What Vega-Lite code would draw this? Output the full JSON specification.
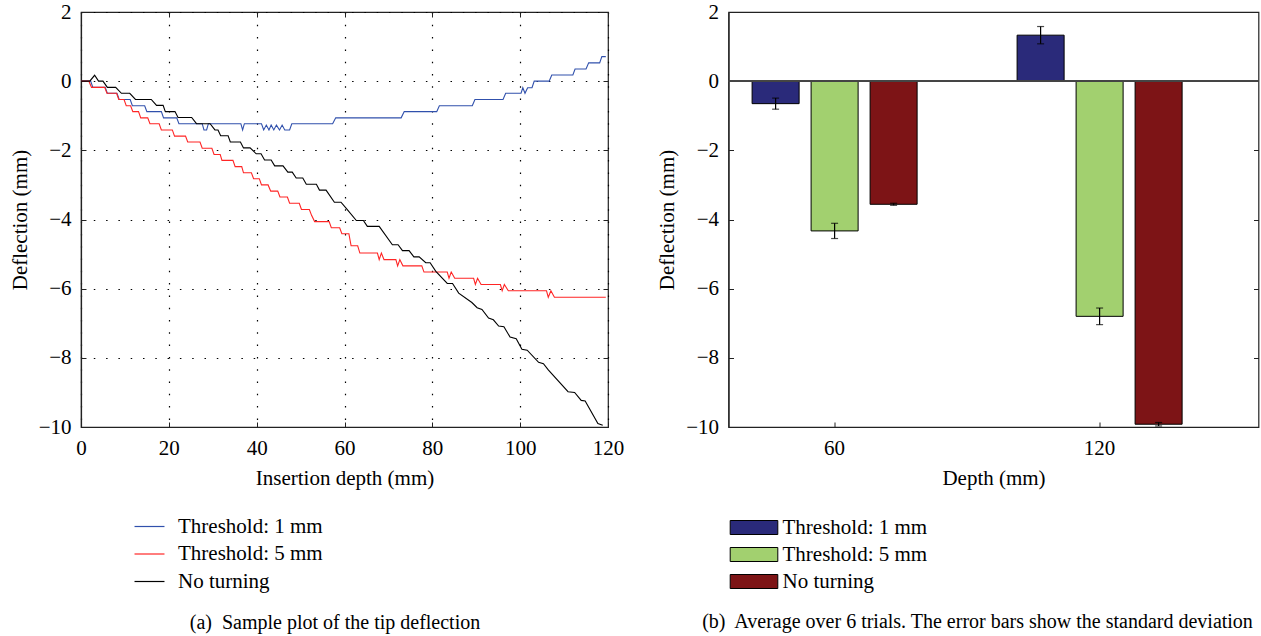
{
  "$schema": "https://vega.github.io/schema/vega-lite/v6.json",
  "padding": {"left": 8, "top": 0, "right": 0, "bottom": 0},
  "background": "white",
  "spacing": 30.5,
  "config": {
    "font": "Liberation Serif",
    "view": {"stroke": "#222", "strokeWidth": 1.2},
    "axis": {"labelFont": "Liberation Serif", "titleFont": "Liberation Serif", "labelFontSize": 21, "titleFontSize": 21, "titleFontWeight": "normal", "labelColor": "black", "titleColor": "black", "domainColor": "#222", "domainWidth": 1.2, "tickColor": "#222", "tickSize": -5, "labelPadding": 15, "labelFlush": false, "grid": false},
    "legend": {"labelFont": "Liberation Serif", "labelFontSize": 21, "labelColor": "black"},
    "title": {"font": "Liberation Serif", "fontSize": 20, "fontWeight": "normal", "color": "black"}
  },
  "resolve": {"scale": {"color": "independent"}, "legend": {"color": "independent"}},
  "hconcat": [
    {
      "width": 527,
      "height": 415,
      "title": {"text": "(a)\u00a0 Sample plot of the tip deflection", "orient": "bottom", "offset": 21, "anchor": "middle", "frame": "group", "dx": -9.5},
      "data": {"values": [
        {"series": "Threshold: 1 mm", "depth": 0, "deflection": 0},
        {"series": "Threshold: 1 mm", "depth": 2.2, "deflection": 0},
        {"series": "Threshold: 1 mm", "depth": 2.7, "deflection": -0.18},
        {"series": "Threshold: 1 mm", "depth": 5.5, "deflection": -0.18},
        {"series": "Threshold: 1 mm", "depth": 6.0, "deflection": -0.35},
        {"series": "Threshold: 1 mm", "depth": 8.2, "deflection": -0.35},
        {"series": "Threshold: 1 mm", "depth": 8.7, "deflection": -0.53},
        {"series": "Threshold: 1 mm", "depth": 11.2, "deflection": -0.53},
        {"series": "Threshold: 1 mm", "depth": 11.7, "deflection": -0.71},
        {"series": "Threshold: 1 mm", "depth": 14.5, "deflection": -0.71},
        {"series": "Threshold: 1 mm", "depth": 15.0, "deflection": -0.88},
        {"series": "Threshold: 1 mm", "depth": 18.3, "deflection": -0.88},
        {"series": "Threshold: 1 mm", "depth": 18.8, "deflection": -1.06},
        {"series": "Threshold: 1 mm", "depth": 21.8, "deflection": -1.06},
        {"series": "Threshold: 1 mm", "depth": 22.3, "deflection": -1.23},
        {"series": "Threshold: 1 mm", "depth": 27.6, "deflection": -1.23},
        {"series": "Threshold: 1 mm", "depth": 28.0, "deflection": -1.41},
        {"series": "Threshold: 1 mm", "depth": 28.6, "deflection": -1.41},
        {"series": "Threshold: 1 mm", "depth": 29.0, "deflection": -1.23},
        {"series": "Threshold: 1 mm", "depth": 36.4, "deflection": -1.23},
        {"series": "Threshold: 1 mm", "depth": 36.8, "deflection": -1.41},
        {"series": "Threshold: 1 mm", "depth": 37.2, "deflection": -1.23},
        {"series": "Threshold: 1 mm", "depth": 41.1, "deflection": -1.23},
        {"series": "Threshold: 1 mm", "depth": 41.6, "deflection": -1.41},
        {"series": "Threshold: 1 mm", "depth": 42.2, "deflection": -1.27},
        {"series": "Threshold: 1 mm", "depth": 42.8, "deflection": -1.41},
        {"series": "Threshold: 1 mm", "depth": 43.3, "deflection": -1.27},
        {"series": "Threshold: 1 mm", "depth": 43.9, "deflection": -1.41},
        {"series": "Threshold: 1 mm", "depth": 44.5, "deflection": -1.27},
        {"series": "Threshold: 1 mm", "depth": 45.2, "deflection": -1.41},
        {"series": "Threshold: 1 mm", "depth": 45.8, "deflection": -1.27},
        {"series": "Threshold: 1 mm", "depth": 46.4, "deflection": -1.41},
        {"series": "Threshold: 1 mm", "depth": 47.5, "deflection": -1.41},
        {"series": "Threshold: 1 mm", "depth": 48.0, "deflection": -1.23},
        {"series": "Threshold: 1 mm", "depth": 57.3, "deflection": -1.23},
        {"series": "Threshold: 1 mm", "depth": 58.0, "deflection": -1.06},
        {"series": "Threshold: 1 mm", "depth": 72.9, "deflection": -1.06},
        {"series": "Threshold: 1 mm", "depth": 73.6, "deflection": -0.88},
        {"series": "Threshold: 1 mm", "depth": 81.0, "deflection": -0.88},
        {"series": "Threshold: 1 mm", "depth": 81.6, "deflection": -0.71},
        {"series": "Threshold: 1 mm", "depth": 89.1, "deflection": -0.71},
        {"series": "Threshold: 1 mm", "depth": 89.7, "deflection": -0.53},
        {"series": "Threshold: 1 mm", "depth": 96.1, "deflection": -0.53},
        {"series": "Threshold: 1 mm", "depth": 96.7, "deflection": -0.35},
        {"series": "Threshold: 1 mm", "depth": 100.2, "deflection": -0.35},
        {"series": "Threshold: 1 mm", "depth": 100.6, "deflection": -0.19},
        {"series": "Threshold: 1 mm", "depth": 101.1, "deflection": -0.35},
        {"series": "Threshold: 1 mm", "depth": 101.7, "deflection": -0.19},
        {"series": "Threshold: 1 mm", "depth": 102.7, "deflection": -0.19},
        {"series": "Threshold: 1 mm", "depth": 103.2, "deflection": 0},
        {"series": "Threshold: 1 mm", "depth": 106.6, "deflection": 0},
        {"series": "Threshold: 1 mm", "depth": 107.2, "deflection": 0.18},
        {"series": "Threshold: 1 mm", "depth": 112.0, "deflection": 0.18},
        {"series": "Threshold: 1 mm", "depth": 112.5, "deflection": 0.35},
        {"series": "Threshold: 1 mm", "depth": 115.0, "deflection": 0.35},
        {"series": "Threshold: 1 mm", "depth": 115.6, "deflection": 0.53},
        {"series": "Threshold: 1 mm", "depth": 118.1, "deflection": 0.53},
        {"series": "Threshold: 1 mm", "depth": 118.6, "deflection": 0.71},
        {"series": "Threshold: 1 mm", "depth": 119.5, "deflection": 0.71},

        {"series": "Threshold: 5 mm", "depth": 0, "deflection": 0},
        {"series": "Threshold: 5 mm", "depth": 1.8, "deflection": 0},
        {"series": "Threshold: 5 mm", "depth": 2.4, "deflection": -0.18},
        {"series": "Threshold: 5 mm", "depth": 5.4, "deflection": -0.18},
        {"series": "Threshold: 5 mm", "depth": 5.9, "deflection": -0.35},
        {"series": "Threshold: 5 mm", "depth": 8.1, "deflection": -0.35},
        {"series": "Threshold: 5 mm", "depth": 8.6, "deflection": -0.53},
        {"series": "Threshold: 5 mm", "depth": 9.8, "deflection": -0.53},
        {"series": "Threshold: 5 mm", "depth": 10.3, "deflection": -0.71},
        {"series": "Threshold: 5 mm", "depth": 11.3, "deflection": -0.71},
        {"series": "Threshold: 5 mm", "depth": 11.8, "deflection": -0.88},
        {"series": "Threshold: 5 mm", "depth": 13.1, "deflection": -0.88},
        {"series": "Threshold: 5 mm", "depth": 13.6, "deflection": -1.06},
        {"series": "Threshold: 5 mm", "depth": 15.2, "deflection": -1.06},
        {"series": "Threshold: 5 mm", "depth": 15.7, "deflection": -1.23},
        {"series": "Threshold: 5 mm", "depth": 17.8, "deflection": -1.23},
        {"series": "Threshold: 5 mm", "depth": 18.3, "deflection": -1.41},
        {"series": "Threshold: 5 mm", "depth": 20.8, "deflection": -1.41},
        {"series": "Threshold: 5 mm", "depth": 21.3, "deflection": -1.59},
        {"series": "Threshold: 5 mm", "depth": 23.8, "deflection": -1.59},
        {"series": "Threshold: 5 mm", "depth": 24.3, "deflection": -1.76},
        {"series": "Threshold: 5 mm", "depth": 27.1, "deflection": -1.76},
        {"series": "Threshold: 5 mm", "depth": 27.6, "deflection": -1.94},
        {"series": "Threshold: 5 mm", "depth": 29.8, "deflection": -1.94},
        {"series": "Threshold: 5 mm", "depth": 30.3, "deflection": -2.12},
        {"series": "Threshold: 5 mm", "depth": 31.7, "deflection": -2.12},
        {"series": "Threshold: 5 mm", "depth": 32.1, "deflection": -2.29},
        {"series": "Threshold: 5 mm", "depth": 34.6, "deflection": -2.29},
        {"series": "Threshold: 5 mm", "depth": 35.1, "deflection": -2.47},
        {"series": "Threshold: 5 mm", "depth": 36.6, "deflection": -2.47},
        {"series": "Threshold: 5 mm", "depth": 37.0, "deflection": -2.65},
        {"series": "Threshold: 5 mm", "depth": 38.8, "deflection": -2.65},
        {"series": "Threshold: 5 mm", "depth": 39.3, "deflection": -2.82},
        {"series": "Threshold: 5 mm", "depth": 40.6, "deflection": -2.82},
        {"series": "Threshold: 5 mm", "depth": 41.1, "deflection": -3.0},
        {"series": "Threshold: 5 mm", "depth": 42.6, "deflection": -3.0},
        {"series": "Threshold: 5 mm", "depth": 43.2, "deflection": -3.18},
        {"series": "Threshold: 5 mm", "depth": 44.8, "deflection": -3.18},
        {"series": "Threshold: 5 mm", "depth": 45.3, "deflection": -3.35},
        {"series": "Threshold: 5 mm", "depth": 47.0, "deflection": -3.35},
        {"series": "Threshold: 5 mm", "depth": 47.5, "deflection": -3.53},
        {"series": "Threshold: 5 mm", "depth": 49.7, "deflection": -3.53},
        {"series": "Threshold: 5 mm", "depth": 50.2, "deflection": -3.71},
        {"series": "Threshold: 5 mm", "depth": 52.0, "deflection": -3.71},
        {"series": "Threshold: 5 mm", "depth": 52.5, "deflection": -3.88},
        {"series": "Threshold: 5 mm", "depth": 53.2, "deflection": -4.06},
        {"series": "Threshold: 5 mm", "depth": 56.5, "deflection": -4.06},
        {"series": "Threshold: 5 mm", "depth": 57.0, "deflection": -4.24},
        {"series": "Threshold: 5 mm", "depth": 58.9, "deflection": -4.24},
        {"series": "Threshold: 5 mm", "depth": 59.4, "deflection": -4.41},
        {"series": "Threshold: 5 mm", "depth": 61.0, "deflection": -4.41},
        {"series": "Threshold: 5 mm", "depth": 61.5, "deflection": -4.76},
        {"series": "Threshold: 5 mm", "depth": 63.0, "deflection": -4.76},
        {"series": "Threshold: 5 mm", "depth": 63.5, "deflection": -4.97},
        {"series": "Threshold: 5 mm", "depth": 67.5, "deflection": -4.97},
        {"series": "Threshold: 5 mm", "depth": 67.9, "deflection": -5.16},
        {"series": "Threshold: 5 mm", "depth": 68.4, "deflection": -4.97},
        {"series": "Threshold: 5 mm", "depth": 69.0, "deflection": -5.16},
        {"series": "Threshold: 5 mm", "depth": 71.7, "deflection": -5.16},
        {"series": "Threshold: 5 mm", "depth": 72.1, "deflection": -5.34},
        {"series": "Threshold: 5 mm", "depth": 72.6, "deflection": -5.16},
        {"series": "Threshold: 5 mm", "depth": 73.3, "deflection": -5.34},
        {"series": "Threshold: 5 mm", "depth": 77.6, "deflection": -5.34},
        {"series": "Threshold: 5 mm", "depth": 78.1, "deflection": -5.52},
        {"series": "Threshold: 5 mm", "depth": 83.4, "deflection": -5.52},
        {"series": "Threshold: 5 mm", "depth": 83.8, "deflection": -5.7},
        {"series": "Threshold: 5 mm", "depth": 84.3, "deflection": -5.52},
        {"series": "Threshold: 5 mm", "depth": 85.1, "deflection": -5.7},
        {"series": "Threshold: 5 mm", "depth": 89.4, "deflection": -5.7},
        {"series": "Threshold: 5 mm", "depth": 89.8, "deflection": -5.88},
        {"series": "Threshold: 5 mm", "depth": 90.3, "deflection": -5.7},
        {"series": "Threshold: 5 mm", "depth": 91.1, "deflection": -5.88},
        {"series": "Threshold: 5 mm", "depth": 95.5, "deflection": -5.88},
        {"series": "Threshold: 5 mm", "depth": 95.9, "deflection": -6.06},
        {"series": "Threshold: 5 mm", "depth": 96.4, "deflection": -5.88},
        {"series": "Threshold: 5 mm", "depth": 97.3, "deflection": -6.06},
        {"series": "Threshold: 5 mm", "depth": 106.0, "deflection": -6.06},
        {"series": "Threshold: 5 mm", "depth": 106.4, "deflection": -6.25},
        {"series": "Threshold: 5 mm", "depth": 107.0, "deflection": -6.06},
        {"series": "Threshold: 5 mm", "depth": 107.8, "deflection": -6.25},
        {"series": "Threshold: 5 mm", "depth": 119.5, "deflection": -6.25},

        {"series": "No turning", "depth": 0, "deflection": 0},
        {"series": "No turning", "depth": 2.0, "deflection": 0},
        {"series": "No turning", "depth": 3.1, "deflection": 0.17},
        {"series": "No turning", "depth": 4.0, "deflection": 0},
        {"series": "No turning", "depth": 5.0, "deflection": 0},
        {"series": "No turning", "depth": 6.0, "deflection": -0.18},
        {"series": "No turning", "depth": 7.9, "deflection": -0.18},
        {"series": "No turning", "depth": 9.2, "deflection": -0.35},
        {"series": "No turning", "depth": 11.1, "deflection": -0.35},
        {"series": "No turning", "depth": 12.4, "deflection": -0.53},
        {"series": "No turning", "depth": 16.0, "deflection": -0.53},
        {"series": "No turning", "depth": 17.2, "deflection": -0.7},
        {"series": "No turning", "depth": 18.7, "deflection": -0.7},
        {"series": "No turning", "depth": 19.2, "deflection": -0.88},
        {"series": "No turning", "depth": 21.4, "deflection": -0.88},
        {"series": "No turning", "depth": 22.1, "deflection": -1.05},
        {"series": "No turning", "depth": 25.2, "deflection": -1.05},
        {"series": "No turning", "depth": 26.3, "deflection": -1.23},
        {"series": "No turning", "depth": 29.4, "deflection": -1.23},
        {"series": "No turning", "depth": 30.5, "deflection": -1.41},
        {"series": "No turning", "depth": 31.2, "deflection": -1.41},
        {"series": "No turning", "depth": 31.8, "deflection": -1.58},
        {"series": "No turning", "depth": 33.5, "deflection": -1.58},
        {"series": "No turning", "depth": 34.0, "deflection": -1.76},
        {"series": "No turning", "depth": 36.3, "deflection": -1.76},
        {"series": "No turning", "depth": 37.0, "deflection": -1.93},
        {"series": "No turning", "depth": 38.5, "deflection": -1.93},
        {"series": "No turning", "depth": 39.9, "deflection": -2.1},
        {"series": "No turning", "depth": 41.0, "deflection": -2.1},
        {"series": "No turning", "depth": 41.8, "deflection": -2.28},
        {"series": "No turning", "depth": 43.3, "deflection": -2.28},
        {"series": "No turning", "depth": 44.1, "deflection": -2.45},
        {"series": "No turning", "depth": 46.0, "deflection": -2.45},
        {"series": "No turning", "depth": 47.1, "deflection": -2.63},
        {"series": "No turning", "depth": 48.1, "deflection": -2.63},
        {"series": "No turning", "depth": 49.0, "deflection": -2.8},
        {"series": "No turning", "depth": 50.5, "deflection": -2.8},
        {"series": "No turning", "depth": 51.3, "deflection": -2.98},
        {"series": "No turning", "depth": 53.6, "deflection": -2.98},
        {"series": "No turning", "depth": 54.3, "deflection": -3.15},
        {"series": "No turning", "depth": 55.8, "deflection": -3.15},
        {"series": "No turning", "depth": 57.7, "deflection": -3.5},
        {"series": "No turning", "depth": 59.2, "deflection": -3.5},
        {"series": "No turning", "depth": 60.4, "deflection": -3.68},
        {"series": "No turning", "depth": 62.7, "deflection": -4.03},
        {"series": "No turning", "depth": 64.3, "deflection": -4.03},
        {"series": "No turning", "depth": 65.2, "deflection": -4.2},
        {"series": "No turning", "depth": 67.9, "deflection": -4.2},
        {"series": "No turning", "depth": 70.9, "deflection": -4.73},
        {"series": "No turning", "depth": 72.2, "deflection": -4.73},
        {"series": "No turning", "depth": 73.2, "deflection": -4.9},
        {"series": "No turning", "depth": 74.7, "deflection": -4.9},
        {"series": "No turning", "depth": 75.8, "deflection": -5.08},
        {"series": "No turning", "depth": 77.0, "deflection": -5.08},
        {"series": "No turning", "depth": 78.5, "deflection": -5.25},
        {"series": "No turning", "depth": 79.5, "deflection": -5.25},
        {"series": "No turning", "depth": 80.8, "deflection": -5.5},
        {"series": "No turning", "depth": 83.4, "deflection": -5.85},
        {"series": "No turning", "depth": 84.6, "deflection": -5.85},
        {"series": "No turning", "depth": 86.0, "deflection": -6.13},
        {"series": "No turning", "depth": 89.0, "deflection": -6.4},
        {"series": "No turning", "depth": 90.2, "deflection": -6.55},
        {"series": "No turning", "depth": 91.3, "deflection": -6.6},
        {"series": "No turning", "depth": 92.8, "deflection": -6.85},
        {"series": "No turning", "depth": 93.9, "deflection": -6.9},
        {"series": "No turning", "depth": 95.1, "deflection": -7.08},
        {"series": "No turning", "depth": 96.3, "deflection": -7.1},
        {"series": "No turning", "depth": 97.7, "deflection": -7.4},
        {"series": "No turning", "depth": 99.1, "deflection": -7.45},
        {"series": "No turning", "depth": 100.4, "deflection": -7.75},
        {"series": "No turning", "depth": 101.6, "deflection": -7.78},
        {"series": "No turning", "depth": 104.2, "deflection": -8.13},
        {"series": "No turning", "depth": 105.3, "deflection": -8.17},
        {"series": "No turning", "depth": 106.4, "deflection": -8.35},
        {"series": "No turning", "depth": 110.9, "deflection": -8.98},
        {"series": "No turning", "depth": 112.4, "deflection": -9.0},
        {"series": "No turning", "depth": 113.9, "deflection": -9.23},
        {"series": "No turning", "depth": 114.8, "deflection": -9.25},
        {"series": "No turning", "depth": 117.7, "deflection": -9.9},
        {"series": "No turning", "depth": 118.8, "deflection": -9.95}
      ]},
      "layer": [
        {
          "mark": {"type": "line", "strokeWidth": 1.1},
          "encoding": {
            "x": {"field": "depth", "type": "quantitative", "scale": {"domain": [0, 120], "nice": false},
                  "axis": {"values": [0, 20, 40, 60, 80, 100, 120], "grid": true, "gridDash": [1.5, 10.8], "gridColor": "black", "gridWidth": 1.2, "title": "Insertion depth (mm)", "titlePadding": 9}},
            "y": {"field": "deflection", "type": "quantitative", "scale": {"domain": [-10, 2], "nice": false},
                  "axis": {"values": [-10, -8, -6, -4, -2, 0, 2], "grid": true, "gridDash": [1.5, 10.8], "gridColor": "black", "gridWidth": 1.2, "title": "Deflection (mm)", "titlePadding": 8}},
            "color": {"field": "series", "type": "nominal",
                      "scale": {"domain": ["Threshold: 1 mm", "Threshold: 5 mm", "No turning"], "range": ["#3050ac", "#ff2525", "#000000"]},
                      "legend": {"orient": "none", "legendX": 58, "legendY": 504, "title": null, "symbolType": "M-2.14,0H2.14", "symbolSize": 196, "symbolStrokeWidth": 1.2, "labelOffset": 18, "rowPadding": 5.5, "padding": 0}}
          }
        },
        {
          "mark": {"type": "line", "opacity": 0},
          "encoding": {
            "x": {"field": "depth", "type": "quantitative", "scale": {"domain": [0, 120], "nice": false},
                  "axis": {"orient": "top", "values": [0, 20, 40, 60, 80, 100, 120], "labels": false, "title": null, "domain": false}},
            "y": {"field": "deflection", "type": "quantitative", "scale": {"domain": [-10, 2], "nice": false},
                  "axis": {"orient": "right", "values": [-10, -8, -6, -4, -2, 0, 2], "labels": false, "title": null, "domain": false}},
            "detail": {"field": "series"}
          }
        }
      ],
      "resolve": {"axis": {"x": "independent", "y": "independent"}}
    },
    {
      "width": 530,
      "height": 415,
      "title": {"text": "(b)\u00a0 Average over 6 trials. The error bars show the standard deviation", "orient": "bottom", "offset": 20, "anchor": "middle", "frame": "group", "dx": -16},
      "data": {"values": [
        {"depth": 60, "series": "Threshold: 1 mm", "mean": -0.65, "sd": 0.16},
        {"depth": 60, "series": "Threshold: 5 mm", "mean": -4.33, "sd": 0.22},
        {"depth": 60, "series": "No turning", "mean": -3.56, "sd": 0.03},
        {"depth": 120, "series": "Threshold: 1 mm", "mean": 1.33, "sd": 0.25},
        {"depth": 120, "series": "Threshold: 5 mm", "mean": -6.8, "sd": 0.24},
        {"depth": 120, "series": "No turning", "mean": -9.92, "sd": 0.05}
      ]},
      "layer": [
        {
          "mark": {"type": "bar", "stroke": "black", "strokeWidth": 1},
          "encoding": {
            "x": {"field": "depth", "type": "ordinal", "scale": {"paddingInner": 0.332, "paddingOuter": 0.166, "align": 0.2},
                  "axis": {"labelAngle": 0, "title": "Depth (mm)", "titlePadding": 9}},
            "xOffset": {"field": "series", "type": "nominal", "scale": {"domain": ["Threshold: 1 mm", "Threshold: 5 mm", "No turning"], "paddingInner": 0.203, "paddingOuter": 0.1017}},
            "y": {"field": "mean", "type": "quantitative", "scale": {"domain": [-10, 2], "nice": false},
                  "axis": {"values": [-10, -8, -6, -4, -2, 0, 2], "title": "Deflection (mm)", "titlePadding": 8}},
            "color": {"field": "series", "type": "nominal",
                      "scale": {"domain": ["Threshold: 1 mm", "Threshold: 5 mm", "No turning"], "range": ["#2a2a7a", "#a2d06f", "#7d1416"]},
                      "legend": {"orient": "none", "legendX": 15, "legendY": 505, "title": null, "symbolType": "M-3.4,-1H3.4V1H-3.4Z", "symbolSize": 196, "symbolStrokeColor": "black", "symbolStrokeWidth": 1, "labelOffset": 18, "rowPadding": 5, "padding": 0}}
          }
        },
        {
          "mark": {"type": "rule", "color": "#444", "strokeWidth": 1.2},
          "encoding": {
            "y": {"datum": 0, "type": "quantitative", "scale": {"domain": [-10, 2], "nice": false},
                  "axis": {"orient": "right", "values": [-10, -8, -6, -4, -2, 0, 2], "labels": false, "title": null, "domain": false}}
          }
        },
        {
          "mark": {"type": "errorbar", "color": "black", "thickness": 1.2, "ticks": {"size": 7, "color": "black"}},
          "encoding": {
            "x": {"field": "depth", "type": "ordinal", "axis": {"labelAngle": 0, "title": "Depth (mm)", "titlePadding": 9}},
            "xOffset": {"field": "series", "type": "nominal"},
            "y": {"field": "mean", "type": "quantitative", "axis": null},
            "yError": {"field": "sd"}
          }
        }
      ],
      "resolve": {"axis": {"y": "independent"}}
    }
  ]
}
